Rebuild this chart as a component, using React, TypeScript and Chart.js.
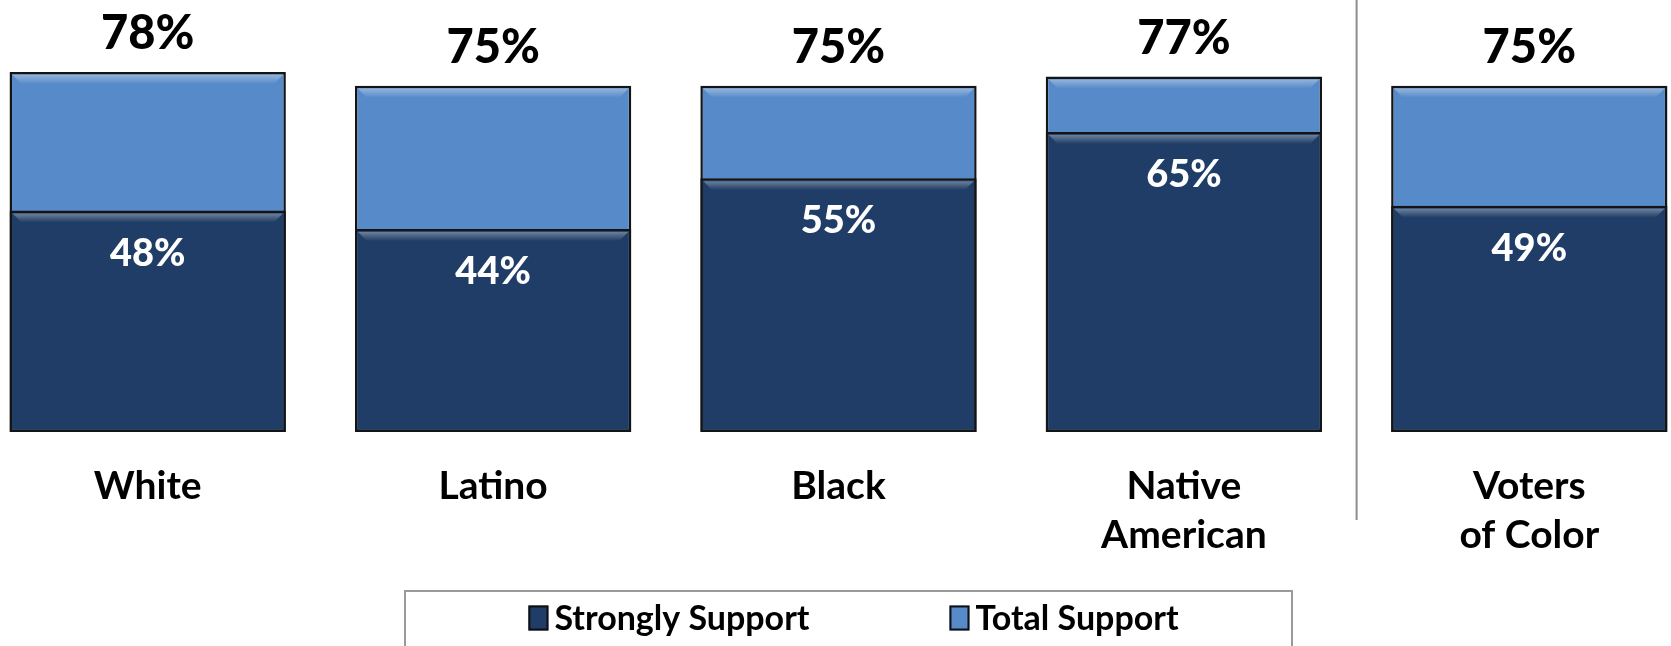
import { useEffect, useRef } from 'react';
import { Chart, registerables } from 'chart.js';

Chart.register(...registerables);

const categories: string[][] = [['White'], ['Latino'], ['Black'], ['Native', 'American'], ['Voters', 'of Color']];
const stronglySupport = [48, 44, 55, 65, 49];
const totalSupport = [78, 75, 75, 77, 75];
const seriesLabels = ['Strongly Support', 'Total Support'];

const DARK = '#1f3d66';
const LIGHT = '#578ac9';
const FONT = 'Lato, "Open Sans", sans-serif';

const bevelPlugin = {
  id: 'bevel',
  afterDatasetDraw(chart: any, args: any) {
    const ctx = chart.ctx;
    const meta = chart.getDatasetMeta(args.index);
    ctx.save();
    meta.data.forEach((bar: any) => {
      const left = bar.x - bar.width / 2 + 3;
      const right = bar.x + bar.width / 2 - 3;
      const top = bar.y + 3;
      const g = ctx.createLinearGradient(0, top, 0, top + 9);
      g.addColorStop(0, 'rgba(255,255,255,0.35)');
      g.addColorStop(1, 'rgba(255,255,255,0)');
      ctx.fillStyle = g;
      ctx.beginPath();
      ctx.moveTo(left, top);
      ctx.lineTo(right, top);
      ctx.lineTo(right - 9, top + 9);
      ctx.lineTo(left + 9, top + 9);
      ctx.closePath();
      ctx.fill();
    });
    ctx.restore();
  },
};

const valueLabelPlugin = {
  id: 'valueLabels',
  afterDatasetsDraw(chart: any) {
    const ctx = chart.ctx;
    ctx.save();
    ctx.textAlign = 'center';
    ctx.textBaseline = 'middle';
    chart.data.datasets.forEach((ds: any, di: number) => {
      const meta = chart.getDatasetMeta(di);
      meta.data.forEach((bar: any, i: number) => {
        const v = ds.data[i];
        if (di === 1) {
          ctx.fillStyle = '#000';
          ctx.font = `900 47px ${FONT}`;
          ctx.fillText(v + '%', bar.x, bar.y - 38);
        } else {
          ctx.fillStyle = '#fff';
          ctx.font = `900 38px ${FONT}`;
          ctx.fillText(v + '%', bar.x, bar.y + 43);
        }
      });
    });
    ctx.restore();
  },
};

const dividerPlugin = {
  id: 'divider',
  afterDraw(chart: any) {
    const x = chart.scales.x;
    const px = (x.getPixelForValue(3) + x.getPixelForValue(4)) / 2;
    const ctx = chart.ctx;
    ctx.save();
    ctx.strokeStyle = '#8c8c8c';
    ctx.lineWidth = 2;
    ctx.beginPath();
    ctx.moveTo(px, 0);
    ctx.lineTo(px, 520);
    ctx.stroke();
    ctx.restore();
  },
};

const legendPlugin = {
  id: 'customLegend',
  afterDraw(chart: any) {
    const ctx = chart.ctx;
    const area = chart.chartArea;
    const cx = (area.left + area.right) / 2 + 10;
    ctx.save();
    const boxW = 887;
    ctx.strokeStyle = '#9a9a9a';
    ctx.lineWidth = 2;
    ctx.strokeRect(cx - boxW / 2, 591, boxW, 80);
    ctx.font = `bold 34px ${FONT}`;
    ctx.textBaseline = 'middle';
    ctx.textAlign = 'left';
    const sw = 20, sh = 25, gap = 6, itemGap = 140;
    const ds = chart.data.datasets;
    const widths = ds.map((d: any) => sw + gap + ctx.measureText(d.label).width);
    const total = widths.reduce((a: number, b: number) => a + b, 0) + itemGap * (ds.length - 1);
    let x = cx - total / 2 + 5;
    const yc = 618;
    ds.forEach((d: any, i: number) => {
      ctx.fillStyle = d.backgroundColor;
      ctx.fillRect(x, yc - sh / 2, sw, sh);
      ctx.strokeStyle = '#111';
      ctx.lineWidth = 2;
      ctx.strokeRect(x + 1, yc - sh / 2 + 1, sw - 2, sh - 2);
      ctx.fillStyle = '#000';
      ctx.fillText(d.label, x + sw + gap, yc + 1);
      x += widths[i] + itemGap;
    });
    ctx.restore();
  },
};

export default function App() {
  const ref = useRef<HTMLCanvasElement | null>(null);
  useEffect(() => {
    if (!ref.current) return;
    const chart = new Chart(ref.current, {
      type: 'bar',
      data: {
        labels: categories,
        datasets: [
          {
            label: seriesLabels[0],
            data: stronglySupport,
            backgroundColor: DARK,
            borderColor: '#141414',
            borderWidth: 2.5,
            borderSkipped: false,
            barPercentage: 0.8,
            categoryPercentage: 1,
          },
          {
            label: seriesLabels[1],
            data: totalSupport,
            backgroundColor: LIGHT,
            borderColor: '#141414',
            borderWidth: 2.5,
            borderSkipped: false,
            barPercentage: 0.8,
            categoryPercentage: 1,
          },
        ],
      },
      options: {
        responsive: false,
        animation: false,
        devicePixelRatio: 1,
        layout: { padding: { left: 0, right: 0, top: 0, bottom: 49 } },
        plugins: {
          legend: { display: false },
          tooltip: { enabled: false },
        },
        scales: {
          x: {
            stacked: true,
            grid: { display: false, drawTicks: false },
            border: { display: false },
            ticks: {
              color: '#000',
              padding: 30,
              font: { family: FONT, size: 39, weight: 'bold', lineHeight: 1.256 },
              maxRotation: 0,
              autoSkip: false,
            },
            afterFit: (scale: any) => {
              scale.height = 165;
            },
          },
          y: {
            stacked: false,
            display: false,
            min: 0,
            max: 93.6,
          },
        },
      },
      plugins: [bevelPlugin, valueLabelPlugin, dividerPlugin, legendPlugin],
    } as any);
    return () => chart.destroy();
  }, []);
  return (
    <div
      style={{
        position: 'fixed',
        left: 0,
        top: 0,
        width: 1671,
        height: 646,
        overflow: 'hidden',
        background: '#fff',
      }}
    >
      <canvas
        ref={ref}
        width={1727}
        height={646}
        style={{ position: 'absolute', left: -25, top: 0, width: 1727, height: 646 }}
      />
    </div>
  );
}
